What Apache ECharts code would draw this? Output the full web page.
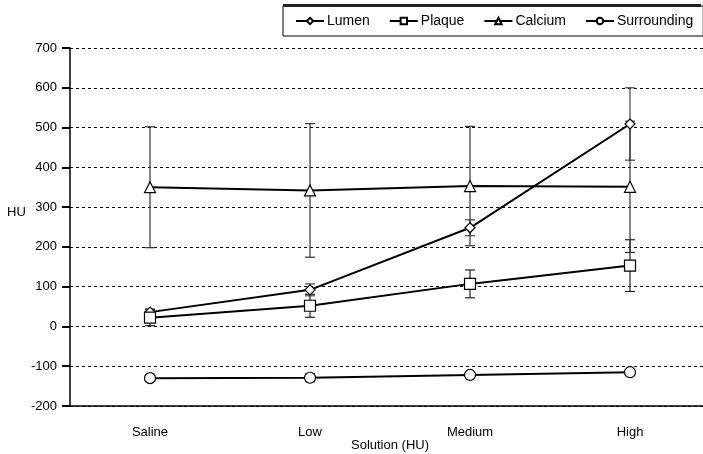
<!DOCTYPE html>
<html>
<head>
<meta charset="utf-8">
<script src="https://cdn.jsdelivr.net/npm/echarts@6/dist/echarts.min.js"></script>
<style>
  html, body { margin: 0; padding: 0; background: #fff; }
  #chart { width: 703px; height: 454px; }
</style>
</head>
<body>
<div id="chart"></div>
<script>
// Mean CT numbers (HU) per contrast solution, with ± SD
const categories = ['Saline', 'Low', 'Medium', 'High'];
const lumenMean = [36, 92, 248, 509];
const lumenSD = [8, 15, 20, 91];
const plaqueMean = [22, 52, 107, 153];
const plaqueSD = [20, 29, 35, 65];
const calciumMean = [350, 342, 353, 351];
const calciumSD = [152, 168, 150, 165];
const surroundingMean = [-130, -129, -122, -115];
const surroundingSD = [4, 10, 4, 4];
const yTicks = { min: -200, max: 700, interval: 100 };

const font = '"Liberation Sans", Arial, sans-serif';
const chart = echarts.init(document.getElementById('chart'), null, { renderer: 'canvas' });

function errorSeries(name, mean, sd, color) {
  return {
    type: 'custom',
    name: name + ' SD',
    z: 1,
    silent: true,
    data: mean.map((m, i) => [i, m - sd[i], m + sd[i]]),
    renderItem: function (params, api) {
      const lo = api.coord([api.value(0), api.value(1)]);
      const hi = api.coord([api.value(0), api.value(2)]);
      const w = 5;
      const style = { stroke: color, lineWidth: 1.2 };
      return {
        type: 'group',
        children: [
          { type: 'line', shape: { x1: lo[0], y1: lo[1], x2: hi[0], y2: hi[1] }, style },
          { type: 'line', shape: { x1: lo[0] - w, y1: lo[1], x2: lo[0] + w, y2: lo[1] }, style },
          { type: 'line', shape: { x1: hi[0] - w, y1: hi[1], x2: hi[0] + w, y2: hi[1] }, style }
        ]
      };
    }
  };
}

function lineSeries(name, data, symbol, size) {
  return {
    type: 'line',
    name: name,
    data: data,
    z: 3,
    symbol: symbol,
    symbolSize: size,
    showAllSymbol: true,
    lineStyle: { color: '#000', width: 2 },
    itemStyle: { color: '#fff', borderColor: '#000', borderWidth: 1.2 },
    emphasis: { disabled: true }
  };
}

const option = {
  backgroundColor: '#fff',
  animation: false,
  grid: { left: 70, top: 48, width: 640, height: 358, containLabel: false, outerBoundsMode: 'none' },
  legend: {
    left: 283,
    top: 6,
    width: 417,
    height: 20,
    padding: [8, 10, 8, 12],
    itemGap: 19,
    itemWidth: 28,
    itemHeight: 8,
    borderColor: '#000',
    borderWidth: 1,
    textStyle: { fontFamily: font, fontSize: 14, color: '#000', padding: [0, 0, 0, -2] },
    data: ['Lumen', 'Plaque', 'Calcium', 'Surrounding']
  },
  xAxis: {
    type: 'category',
    data: categories,
    boundaryGap: true,
    axisLine: { onZero: false, lineStyle: { color: '#000', width: 1.5 } },
    axisTick: { show: false },
    axisLabel: { color: '#000', fontFamily: font, fontSize: 13, margin: 20 },
    splitLine: { show: false }
  },
  yAxis: {
    type: 'value',
    min: yTicks.min,
    max: yTicks.max,
    interval: yTicks.interval,
    axisLine: { show: true, lineStyle: { color: '#000', width: 1.5 } },
    axisTick: { show: true, inside: false, length: 8, lineStyle: { color: '#000', width: 2 } },
    axisLabel: { color: '#000', fontFamily: font, fontSize: 13, margin: 13 },
    splitLine: { show: true, lineStyle: { color: '#000', width: 1, type: [3, 3] } }
  },
  graphic: [
    { type: 'rect', left: 283, top: 4, shape: { width: 418, height: 3 }, style: { fill: '#222' }, z: 10 },
    { type: 'text', left: 7, top: 206, style: { text: 'HU', fill: '#000', font: '13px ' + font } },
    { type: 'text', x: 390, y: 445, style: { text: 'Solution (HU)', fill: '#000', font: '13px ' + font, align: 'center', verticalAlign: 'middle' } }
  ],
  series: [
    errorSeries('Lumen', lumenMean, lumenSD, '#444'),
    errorSeries('Plaque', plaqueMean, plaqueSD, '#222'),
    errorSeries('Calcium', calciumMean, calciumSD, '#333'),
    errorSeries('Surrounding', surroundingMean, surroundingSD, '#222'),
    lineSeries('Lumen', lumenMean, 'diamond', 10),
    lineSeries('Plaque', plaqueMean, 'rect', 11),
    lineSeries('Calcium', calciumMean, 'triangle', 11),
    lineSeries('Surrounding', surroundingMean, 'circle', 11)
  ]
};

chart.setOption(option);
</script>
</body>
</html>
